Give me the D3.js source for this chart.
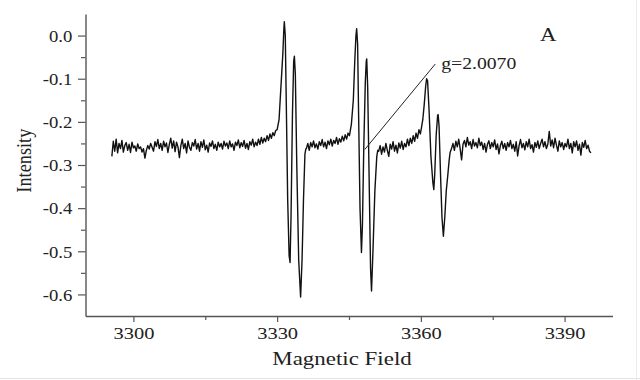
<!DOCTYPE html>
<html>
<head>
<meta charset="utf-8">
<script src="https://cdn.jsdelivr.net/npm/d3@7/dist/d3.min.js"></script>
<style>
html,body{margin:0;padding:0;background:#fff;}
svg{display:block;}
</style>
</head>
<body>
<svg id="chart" width="640" height="380"></svg>
<script>
// ---------------- DATA ----------------
const noiseStep = 0.3;

// baseline 3295.5 -> 3329.7
const leftNoiseStart = 3295.5;
const leftNoise = [
 -0.280,-0.245,-0.268,-0.240,-0.272,-0.250,-0.262,-0.243,-0.270,-0.255,-0.248,-0.266,-0.252,-0.271,-0.247,-0.260,-0.256,-0.268,-0.251,-0.262,
 -0.258,-0.270,-0.262,-0.284,-0.266,-0.255,-0.263,-0.250,-0.259,-0.268,-0.246,-0.257,-0.241,-0.262,-0.250,-0.266,-0.245,-0.258,-0.249,-0.271,
 -0.252,-0.238,-0.261,-0.244,-0.269,-0.247,-0.258,-0.283,-0.255,-0.240,-0.262,-0.250,-0.272,-0.244,-0.259,-0.266,-0.248,-0.256,-0.241,-0.263,
 -0.250,-0.268,-0.246,-0.259,-0.242,-0.265,-0.254,-0.270,-0.249,-0.257,-0.244,-0.262,-0.252,-0.266,-0.247,-0.258,-0.250,-0.263,-0.245,-0.256,
 -0.249,-0.262,-0.244,-0.258,-0.251,-0.266,-0.247,-0.255,-0.242,-0.260,-0.248,-0.257,-0.243,-0.261,-0.250,-0.264,-0.246,-0.254,-0.240,-0.258,
 -0.247,-0.255,-0.240,-0.252,-0.236,-0.249,-0.238,-0.246,-0.232,-0.243,-0.228,-0.238,-0.225,-0.232,-0.220
];

// first pair of lines
const peak1Field = [3330.0,3330.4,3330.9,3331.2,3331.4,3331.5,3331.7,3331.9,3332.2,3332.5,3332.7,3332.9,3333.2,3333.45,3333.6,3333.8,3334.1,3334.5,3334.9,3335.2,3335.5,3335.8,3336.0];
const peak1Int   = [-0.218,-0.195,-0.098,-0.040,0.015,0.032,0.000,-0.150,-0.380,-0.510,-0.526,-0.420,-0.180,-0.060,-0.048,-0.090,-0.300,-0.520,-0.606,-0.520,-0.380,-0.275,-0.262];

// baseline 3336.1 -> 3345.1
const mid1NoiseStart = 3336.1;
const mid1Noise = [
 -0.262,-0.250,-0.266,-0.248,-0.258,-0.244,-0.260,-0.251,-0.263,-0.246,-0.255,-0.241,-0.258,-0.247,-0.262,-0.244,
 -0.253,-0.240,-0.256,-0.243,-0.250,-0.236,-0.252,-0.239,-0.247,-0.233,-0.244,-0.230,-0.240,-0.226,-0.232
];

// second pair of lines
const peak2Field = [3345.2,3345.5,3345.9,3346.2,3346.45,3346.6,3346.8,3347.0,3347.3,3347.6,3347.8,3348.1,3348.4,3348.6,3348.7,3348.9,3349.2,3349.5,3349.7,3350.0,3350.4,3350.8,3351.0];
const peak2Int   = [-0.225,-0.205,-0.150,-0.060,0.000,0.016,-0.020,-0.180,-0.400,-0.503,-0.440,-0.250,-0.110,-0.060,-0.054,-0.120,-0.330,-0.540,-0.592,-0.500,-0.360,-0.280,-0.266];

// baseline 3351.2 -> 3359.9
const mid2NoiseStart = 3351.2;
const mid2Noise = [
 -0.268,-0.255,-0.275,-0.258,-0.270,-0.250,-0.266,-0.280,-0.252,-0.263,-0.246,-0.268,-0.254,-0.272,-0.249,
 -0.261,-0.245,-0.264,-0.250,-0.258,-0.240,-0.255,-0.238,-0.250,-0.232,-0.245,-0.226,-0.238,-0.218,-0.228
];

// third pair of lines
const peak3Field = [3360.1,3360.4,3360.7,3361.0,3361.2,3361.4,3361.7,3362.1,3362.5,3362.7,3362.9,3363.2,3363.5,3363.6,3363.8,3364.1,3364.4,3364.7,3365.0,3365.3,3365.6,3365.9,3366.1];
const peak3Int   = [-0.215,-0.195,-0.160,-0.118,-0.100,-0.105,-0.170,-0.280,-0.340,-0.357,-0.320,-0.230,-0.185,-0.183,-0.210,-0.320,-0.420,-0.465,-0.420,-0.360,-0.326,-0.290,-0.271];

// baseline 3366.4 -> 3395.5
const rightNoiseStart = 3366.4;
const rightNoise = [
 -0.262,-0.250,-0.266,-0.245,-0.258,-0.240,-0.262,-0.288,-0.252,-0.243,-0.258,-0.236,-0.254,-0.246,-0.262,-0.241,-0.256,-0.248,-0.260,-0.238,
 -0.255,-0.247,-0.264,-0.250,-0.270,-0.252,-0.244,-0.262,-0.248,-0.258,-0.242,-0.264,-0.251,-0.274,-0.255,-0.245,-0.262,-0.250,-0.266,-0.248,
 -0.258,-0.243,-0.262,-0.252,-0.268,-0.246,-0.279,-0.255,-0.241,-0.260,-0.250,-0.265,-0.246,-0.258,-0.240,-0.262,-0.253,-0.270,-0.248,-0.259,
 -0.244,-0.262,-0.250,-0.240,-0.258,-0.246,-0.262,-0.252,-0.222,-0.256,-0.242,-0.260,-0.238,-0.254,-0.268,-0.244,-0.258,-0.248,-0.264,-0.250,
 -0.258,-0.240,-0.262,-0.250,-0.272,-0.246,-0.258,-0.244,-0.266,-0.252,-0.277,-0.248,-0.259,-0.243,-0.262,-0.254,-0.268,-0.272
];

// axes
const xDomain = [3290, 3400];
const yDomain = [-0.65, 0.05];
const xMajorTicks = [3300, 3330, 3360, 3390];
const xMinorTicks = [3315, 3345, 3375];
const yMajorTicks = [-0.6, -0.5, -0.4, -0.3, -0.2, -0.1, 0.0];
const yTickLabels = ["-0.6", "-0.5", "-0.4", "-0.3", "-0.2", "-0.1", "0.0"];
const yMinorTicks = [-0.55, -0.45, -0.35, -0.25, -0.15, -0.05];

const xTitle = "Magnetic Field";
const yTitle = "Intensity";
const panelLabel = "A";
const annotationText = "g=2.0070";
const annotationAnchor = [3348.3, -0.264];
const annotationEnd = [3363.0, -0.066];

// ---------------- BUILD SERIES ----------------
function noiseSeg(start, vals) {
  return vals.map((v, i) => [start + i * noiseStep, v]);
}
function peakSeg(f, v) { return f.map((d, i) => [d, v[i]]); }

const spectrum = [].concat(
  noiseSeg(leftNoiseStart, leftNoise),
  peakSeg(peak1Field, peak1Int),
  noiseSeg(mid1NoiseStart, mid1Noise),
  peakSeg(peak2Field, peak2Int),
  noiseSeg(mid2NoiseStart, mid2Noise),
  peakSeg(peak3Field, peak3Int),
  noiseSeg(rightNoiseStart, rightNoise)
);

// ---------------- DRAW ----------------
const svg = d3.select("#chart");
const FONT = "'Liberation Serif','Times New Roman',serif";
const axisColor = "#555";
const textColor = "#222";

const x = d3.scaleLinear().domain(xDomain).range([85.5, 612.5]);
const y = d3.scaleLinear().domain(yDomain).range([316, 14]);

// faint frame lines of the original picture
svg.append("line").attr("x1", 0).attr("x2", 640).attr("y1", 378.5).attr("y2", 378.5)
  .attr("stroke", "#e2e2e2").attr("stroke-width", 1);
svg.append("line").attr("x1", 636.5).attr("x2", 636.5).attr("y1", 0).attr("y2", 380)
  .attr("stroke", "#ececec").attr("stroke-width", 1);

// x axis
const xAxisG = svg.append("g").attr("transform", `translate(0,${y(yDomain[0])})`)
  .call(d3.axisBottom(x).tickValues(xMajorTicks).tickSize(6).tickSizeOuter(0).tickFormat(d3.format("d")));
xAxisG.append("g").call(d3.axisBottom(x).tickValues(xMinorTicks).tickSize(4).tickSizeOuter(0).tickFormat(""))
  .select(".domain").remove();
xAxisG.selectAll("path.domain").attr("stroke", axisColor).attr("stroke-width", 1.4);
xAxisG.selectAll(".tick line").attr("stroke", axisColor).attr("stroke-width", 1.2);
xAxisG.selectAll(".tick text")
  .attr("y", 23.5).attr("dy", null)
  .attr("transform", "scale(1.17,1)")
  .attr("fill", textColor)
  .style("font-family", FONT).style("font-size", "17.5px");

// y axis
const yAxisG = svg.append("g").attr("transform", `translate(${x(xDomain[0])},0)`)
  .call(d3.axisLeft(y).tickValues(yMajorTicks).tickSize(7.5).tickSizeOuter(0)
    .tickFormat((d, i) => yTickLabels[i]));
yAxisG.append("g").call(d3.axisLeft(y).tickValues(yMinorTicks).tickSize(4.5).tickSizeOuter(0).tickFormat(""))
  .select(".domain").remove();
yAxisG.selectAll("path.domain").attr("stroke", axisColor).attr("stroke-width", 1.4);
yAxisG.selectAll(".tick line").attr("stroke", axisColor).attr("stroke-width", 1.2);
yAxisG.selectAll(".tick text")
  .attr("x", -12).attr("dy", "0.34em")
  .attr("transform", "scale(1.1,1)")
  .attr("fill", textColor)
  .style("font-family", FONT).style("font-size", "17px");
svg.selectAll(".domain").attr("fill", "none");

// spectrum line
const line = d3.line().x(d => x(d[0])).y(d => y(d[1]));
svg.append("path").datum(spectrum)
  .attr("d", line)
  .attr("fill", "none")
  .attr("stroke", "#111")
  .attr("stroke-width", 1.4)
  .attr("stroke-linejoin", "round");

// annotation
svg.append("line")
  .attr("x1", x(annotationAnchor[0])).attr("y1", y(annotationAnchor[1]))
  .attr("x2", x(annotationEnd[0])).attr("y2", y(annotationEnd[1]))
  .attr("stroke", "#222").attr("stroke-width", 1);

function stretchedText(px, py, str, size, sx, anchor) {
  svg.append("g").attr("transform", `translate(${px},${py}) scale(${sx},1)`)
    .append("text").text(str)
    .attr("text-anchor", anchor || "start")
    .attr("fill", textColor)
    .style("font-family", FONT).style("font-size", size + "px");
}
stretchedText(x(annotationEnd[0]) + 6, y(annotationEnd[1]) + 5, annotationText, 16, 1.23, "start");
stretchedText(540, 41, panelLabel, 19, 1.2, "start");
stretchedText((x(xDomain[0]) + x(xDomain[1])) / 2 - 7, 365, xTitle, 18.5, 1.24, "middle");

// y title (rotated)
svg.append("g").attr("transform", `translate(31,${y(-0.29)}) rotate(-90) scale(1,1.2)`)
  .append("text").text(yTitle)
  .attr("text-anchor", "middle")
  .attr("fill", textColor)
  .style("font-family", FONT).style("font-size", "18.3px");
</script>
</body>
</html>
